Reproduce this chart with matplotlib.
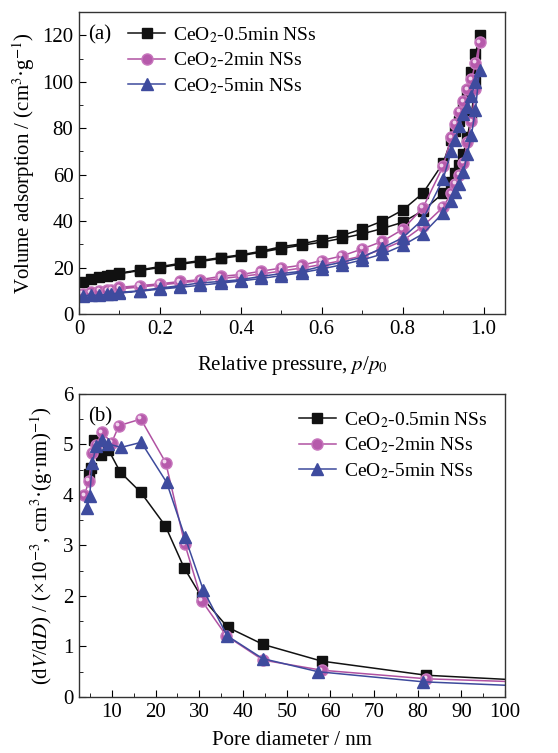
import matplotlib
matplotlib.use('Agg')
from matplotlib import pyplot as plt
from matplotlib.ticker import MultipleLocator
from matplotlib.transforms import ScaledTranslation

plt.rcParams['font.family'] = ['Liberation Serif', 'DejaVu Serif']
plt.rcParams['mathtext.fontset'] = 'stix'
plt.rcParams['font.size'] = 14

# ---- (a) N2 isotherms: adsorption branch then desorption branch ----
p_ads = [0.01, 0.03, 0.05, 0.07, 0.08, 0.10, 0.15, 0.20, 0.25, 0.30, 0.35,
         0.40, 0.45, 0.50, 0.55, 0.60, 0.65, 0.70, 0.75, 0.80, 0.85, 0.90,
         0.92, 0.93, 0.94, 0.95, 0.96, 0.97, 0.98, 0.99]
p_des = [0.98, 0.97, 0.96, 0.95, 0.94, 0.93, 0.92, 0.90, 0.85, 0.80, 0.75,
         0.70, 0.65, 0.60, 0.55, 0.50, 0.45, 0.40, 0.35, 0.30, 0.25, 0.20,
         0.15, 0.10]

v05_ads = [13.6, 15.1, 15.8, 16.3, 16.8, 17.3, 18.7, 20.0, 21.4, 22.6, 23.9,
           25.1, 26.6, 28.2, 29.6, 30.9, 32.6, 34.5, 36.8, 39.5, 44.5, 52.0,
           57.0, 60.5, 64.0, 69.0, 76.0, 86.0, 100.0, 120.0]
v05_des = [112.0, 104.0, 96.0, 89.0, 83.0, 79.0, 75.0, 65.0, 52.0, 44.7, 40.0,
           36.6, 33.8, 32.0, 30.2, 29.0, 27.0, 25.5, 24.3, 23.0, 21.8, 20.4,
           19.0, 17.6]

v2_ads = [8.6, 9.4, 9.9, 10.2, 10.4, 10.8, 11.6, 12.5, 13.4, 14.3, 15.2,
          16.2, 17.2, 18.5, 19.8, 21.3, 23.0, 25.0, 27.8, 31.5, 37.8, 46.0,
          52.0, 56.0, 60.0, 65.0, 74.0, 83.0, 97.0, 117.0]
v2_des = [108.0, 101.0, 96.7, 91.6, 87.0, 82.0, 76.0, 63.6, 45.7, 36.4, 31.3,
          28.0, 25.0, 23.0, 21.0, 19.8, 18.4, 17.0, 16.2, 14.8, 14.0, 13.0,
          12.2, 11.5]

v5_ads = [7.8, 8.2, 8.0, 8.5, 8.7, 9.0, 9.8, 10.7, 11.5, 12.4, 13.3,
          14.2, 15.3, 16.5, 17.8, 19.4, 21.2, 23.3, 25.8, 29.5, 34.5, 43.5,
          48.5, 52.5, 56.0, 61.0, 69.0, 77.0, 88.0, 105.0]
v5_des = [100.0, 94.0, 89.0, 86.0, 81.0, 75.0, 70.0, 58.0, 40.7, 32.8, 28.5,
          24.4, 22.3, 20.5, 18.4, 17.4, 16.2, 14.8, 14.0, 13.4, 12.2, 11.2,
          10.0, 9.3]

# ---- (b) pore size distribution ----
d05 = [4.7, 5.3, 5.9, 7.5, 9.2, 11.9, 16.6, 22.2, 26.5, 30.5, 36.5, 44.6, 58.0, 82.0, 120.0]
f05 = [4.41, 4.53, 5.09, 4.79, 4.89, 4.45, 4.05, 3.39, 2.56, 1.98, 1.38, 1.04, 0.71, 0.43, 0.26]

d2 = [3.7, 4.7, 5.5, 6.4, 7.7, 9.9, 11.6, 16.6, 22.3, 26.7, 30.6, 36.2, 44.6, 58.0, 82.0, 120.0]
f2 = [3.99, 4.28, 4.83, 4.99, 5.24, 5.03, 5.37, 5.50, 4.64, 3.02, 1.90, 1.21, 0.73, 0.53, 0.36, 0.25]

d5 = [4.3, 4.9, 5.5, 6.4, 7.6, 9.1, 12.1, 16.7, 22.5, 26.7, 30.9, 36.4, 44.5, 57.2, 81.3, 120.0]
f5 = [3.75, 3.98, 4.64, 4.97, 5.09, 5.01, 4.94, 5.04, 4.25, 3.17, 2.12, 1.21, 0.76, 0.50, 0.30, 0.16]

labels = ['CeO$_2$-0.5min NSs', 'CeO$_2$-2min NSs', 'CeO$_2$-5min NSs']

styles = [
    dict(color='#111111', marker='s', markersize=7, mfc='#111111', mec='#111111'),
    dict(color='#b052a2', marker='o', markersize=8, mfc='#b65aab', mec='#c777bd'),
    dict(color='#3d4a9c', marker='^', markersize=8, mfc='#3e4b9e', mec='#3e4b9e'),
]


def style_axes(ax):
    for s in ax.spines.values():
        s.set_color('#333333')
        s.set_linewidth(1.0)
    ax.tick_params(which='both', direction='in', top=False, right=False,
                   labelsize=15, pad=4)
    ax.tick_params(which='major', length=5)
    ax.tick_params(which='minor', length=3)


def add_shine(ax, x, y):
    # small light spot on the pink spheres
    off = ScaledTranslation(-1.2 / 72, 1.2 / 72, fig.dpi_scale_trans)
    ax.plot(x, y, ls='none', marker='o', markersize=2.8, mfc='#f2d6ee',
            mec='none', transform=ax.transData + off, clip_on=True)


fig = plt.figure(figsize=(5.58, 7.53), dpi=100)

# panel (a)
ax1 = fig.add_axes([0.1416, 0.583, 0.7634, 0.401])
iso = [(v05_ads, v05_des), (v2_ads, v2_des), (v5_ads, v5_des)]
for i, ((ads, des), lab, st) in enumerate(zip(iso, labels, styles)):
    xs = p_ads + p_des
    ys = ads + des
    ax1.plot(xs, ys, lw=1.1, label=lab, **st)
    if i == 1:
        add_shine(ax1, xs, ys)
ax1.set_xlim(0, 1.053)
ax1.set_ylim(0, 130)
ax1.xaxis.set_major_locator(MultipleLocator(0.2))
ax1.xaxis.set_minor_locator(MultipleLocator(0.1))
ax1.yaxis.set_major_locator(MultipleLocator(20))
ax1.yaxis.set_minor_locator(MultipleLocator(10))
ax1.set_xticks([0, 0.2, 0.4, 0.6, 0.8, 1.0])
ax1.set_xticklabels(['0', '0.2', '0.4', '0.6', '0.8', '1.0'])
style_axes(ax1)
ax1.set_xlabel('Relative pressure, $p$/$p_0$', fontsize=15, labelpad=11)
ax1.set_ylabel('Volume adsorption / (cm$^3$·g$^{-1}$)', fontsize=15, labelpad=4)
ax1.text(0.022, 0.955, '(a)', transform=ax1.transAxes, fontsize=15, va='top')
ax1.legend(loc='upper left', bbox_to_anchor=(0.075, 1.015), frameon=False,
           fontsize=14, handlelength=1.9, handletextpad=0.4, labelspacing=0.3)

# panel (b)
ax2 = fig.add_axes([0.1416, 0.0744, 0.7634, 0.4026])
psd = [(d05, f05), (d2, f2), (d5, f5)]
for i, ((d, f), lab, st) in enumerate(zip(psd, labels, styles)):
    ax2.plot(d, f, lw=1.1, label=lab, **st)
    if i == 1:
        add_shine(ax2, d, f)
ax2.set_xlim(2.45, 100)
ax2.set_ylim(0, 6)
ax2.xaxis.set_major_locator(MultipleLocator(10))
ax2.xaxis.set_minor_locator(MultipleLocator(5))
ax2.yaxis.set_major_locator(MultipleLocator(1))
ax2.yaxis.set_minor_locator(MultipleLocator(0.5))
style_axes(ax2)
ax2.set_xlabel('Pore diameter / nm', fontsize=15, labelpad=7)
ax2.set_ylabel('(d$V$/d$D$) / (×10$^{-3}$, cm$^3$·(g·nm)$^{-1}$)', fontsize=15, labelpad=6)
ax2.text(0.022, 0.955, '(b)', transform=ax2.transAxes, fontsize=15, va='top')
ax2.legend(loc='upper right', bbox_to_anchor=(1.0, 1.005), frameon=False,
           fontsize=14, handlelength=1.9, handletextpad=0.4, labelspacing=0.3)

fig.savefig('out.png', dpi=100)
